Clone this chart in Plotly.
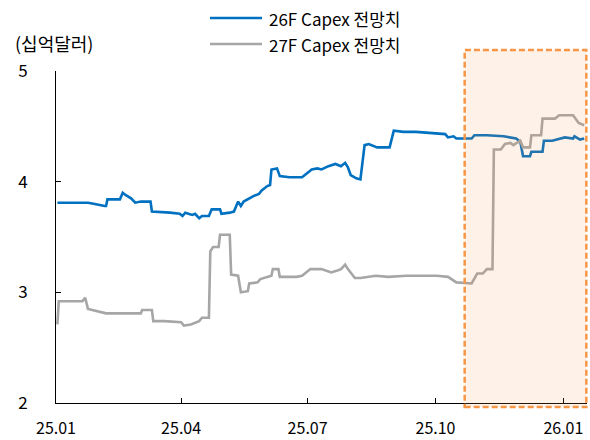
import pandas as pd
import plotly.graph_objects as go

# 26F Capex consensus (USD bn)
capex26_dates = [
    "2025-01-02", "2025-01-24", "2025-01-28", "2025-01-31", "2025-02-05", "2025-02-06",
    "2025-02-07", "2025-02-16", "2025-02-18", "2025-02-20", "2025-02-24", "2025-02-27",
    "2025-03-03", "2025-03-10", "2025-03-11", "2025-03-24", "2025-03-31", "2025-04-02",
    "2025-04-04", "2025-04-09", "2025-04-11", "2025-04-14", "2025-04-16", "2025-04-21",
    "2025-04-23", "2025-04-29", "2025-04-30", "2025-05-06", "2025-05-09", "2025-05-12",
    "2025-05-14", "2025-05-16", "2025-05-20", "2025-05-23", "2025-05-27", "2025-05-29",
    "2025-06-02", "2025-06-04", "2025-06-05", "2025-06-09", "2025-06-11", "2025-06-18",
    "2025-06-27", "2025-07-01", "2025-07-04", "2025-07-08", "2025-07-11", "2025-07-16",
    "2025-07-21", "2025-07-25", "2025-07-28", "2025-07-30", "2025-08-01", "2025-08-05",
    "2025-08-08", "2025-08-11", "2025-08-14", "2025-08-20", "2025-08-29", "2025-09-01",
    "2025-09-08", "2025-09-17", "2025-09-26", "2025-10-08", "2025-10-10", "2025-10-14",
    "2025-10-16", "2025-10-27", "2025-10-29", "2025-11-07", "2025-11-19", "2025-11-28",
    "2025-12-01", "2025-12-03", "2025-12-08", "2025-12-09", "2025-12-17", "2025-12-18",
    "2025-12-24", "2025-12-29", "2026-01-02", "2026-01-08", "2026-01-09", "2026-01-13",
    "2026-01-16",
]
capex26_values = [
    3.81, 3.81, 3.80, 3.79, 3.78, 3.78,
    3.84, 3.84, 3.90, 3.88, 3.85, 3.81,
    3.82, 3.82, 3.73, 3.72, 3.71, 3.69,
    3.72, 3.70, 3.71, 3.67, 3.69, 3.69,
    3.75, 3.75, 3.71, 3.72, 3.73, 3.82,
    3.78, 3.82, 3.85, 3.87, 3.89, 3.92,
    3.96, 3.97, 4.11, 4.12, 4.05, 4.04,
    4.04, 4.08, 4.11, 4.12, 4.11, 4.14,
    4.16, 4.14, 4.17, 4.13, 4.06, 4.03,
    4.02, 4.33, 4.34, 4.31, 4.31, 4.46,
    4.45, 4.45, 4.44, 4.43, 4.40, 4.41,
    4.39, 4.39, 4.42, 4.42, 4.41, 4.39,
    4.36, 4.23, 4.23, 4.27, 4.27, 4.37,
    4.37, 4.39, 4.40, 4.39, 4.41, 4.38,
    4.39,
]

# 27F Capex consensus (USD bn)
capex27_dates = [
    "2025-01-02", "2025-01-03", "2025-01-20", "2025-01-22", "2025-01-24", "2025-01-30",
    "2025-02-06", "2025-03-03", "2025-03-04", "2025-03-11", "2025-03-12", "2025-03-20",
    "2025-04-01", "2025-04-03", "2025-04-08", "2025-04-14", "2025-04-16", "2025-04-21",
    "2025-04-22", "2025-04-24", "2025-04-28", "2025-04-29", "2025-05-06", "2025-05-07",
    "2025-05-12", "2025-05-14", "2025-05-19", "2025-05-20", "2025-05-26", "2025-05-28",
    "2025-06-02", "2025-06-05", "2025-06-06", "2025-06-10", "2025-06-11", "2025-06-23",
    "2025-06-27", "2025-07-03", "2025-07-11", "2025-07-18", "2025-07-23", "2025-07-25",
    "2025-07-28", "2025-07-30", "2025-08-04", "2025-08-08", "2025-08-19", "2025-08-28",
    "2025-09-10", "2025-09-22", "2025-10-02", "2025-10-10", "2025-10-16", "2025-10-27",
    "2025-10-29", "2025-10-31", "2025-11-04", "2025-11-07", "2025-11-11", "2025-11-12",
    "2025-11-17", "2025-11-20", "2025-11-24", "2025-11-26", "2025-12-01", "2025-12-03",
    "2025-12-08", "2025-12-09", "2025-12-16", "2025-12-17", "2025-12-26", "2025-12-29",
    "2026-01-08", "2026-01-12", "2026-01-16",
]
capex27_values = [
    2.71, 2.92, 2.92, 2.95, 2.85, 2.83,
    2.81, 2.81, 2.84, 2.84, 2.74, 2.74,
    2.73, 2.70, 2.71, 2.74, 2.77, 2.77,
    3.37, 3.41, 3.41, 3.52, 3.52, 3.16,
    3.15, 3.00, 3.01, 3.08, 3.09, 3.12,
    3.14, 3.15, 3.21, 3.21, 3.14, 3.14,
    3.15, 3.21, 3.21, 3.18, 3.20, 3.21,
    3.25, 3.21, 3.13, 3.13, 3.15, 3.14,
    3.15, 3.15, 3.15, 3.14, 3.09, 3.08,
    3.13, 3.17, 3.17, 3.21, 3.21, 4.29,
    4.29, 4.34, 4.35, 4.33, 4.37, 4.31,
    4.31, 4.42, 4.42, 4.57, 4.57, 4.60,
    4.60, 4.53, 4.51,
]

series_names = ["26F Capex 전망치", "27F Capex 전망치"]
series_colors = ["#0070C0", "#A6A6A6"]

tick_dates = ["2025-01-01", "2025-04-01", "2025-07-01", "2025-10-01", "2026-01-01"]
tick_labels = ["25.01", "25.04", "25.07", "25.10", "26.01"]

unit_label = "(십억달러)"

# Highlighted window
highlight_start = "2025-10-22"
highlight_end = "2026-01-17 12:00"

x_start = "2025-01-01"
x_end = "2026-01-18"
y_min, y_max = 2, 5

FONT = "Noto Sans CJK KR"
W, H = 590, 440
M_L, M_R, M_T, M_B = 56, 3, 71, 37

fig = go.Figure()
for dates, values, name, color in [
    (capex26_dates, capex26_values, series_names[0], series_colors[0]),
    (capex27_dates, capex27_values, series_names[1], series_colors[1]),
]:
    fig.add_trace(go.Scatter(
        x=pd.to_datetime(dates), y=values, mode="lines", name=name,
        line=dict(color=color, width=2.6), showlegend=False,
    ))

# paper coordinates of the highlight window
t0, t1 = pd.Timestamp(x_start), pd.Timestamp(x_end)
def to_paper(d):
    return (pd.Timestamp(d) - t0) / (t1 - t0)

plot_w = W - M_L - M_R
plot_h = H - M_T - M_B

fig.add_shape(
    type="rect", xref="paper", yref="paper",
    x0=to_paper(highlight_start), x1=to_paper(highlight_end),
    y0=-4 / plot_h, y1=1 + 21 / plot_h,
    line=dict(color="#F79646", width=2.5, dash="6px,3px"),
    fillcolor="rgba(247,150,70,0.13)", layer="above",
)

# legend drawn as sample lines with labels
legend_rows = [18, 44]
for row_y, name, color in zip(legend_rows, series_names, series_colors):
    py = (H - M_B - row_y) / plot_h
    fig.add_shape(
        type="line", xref="paper", yref="paper",
        x0=(210 - M_L) / plot_w, x1=(262 - M_L) / plot_w, y0=py, y1=py,
        line=dict(color=color, width=2.6),
    )
    fig.add_annotation(
        text=name, xref="paper", yref="paper",
        x=(267 - M_L) / plot_w, y=py, xanchor="left", yanchor="middle",
        showarrow=False, font=dict(family=FONT, size=17, color="#000000"),
    )

fig.add_annotation(
    text=unit_label, xref="paper", yref="paper",
    x=(13 - M_L) / plot_w, y=(H - M_B - 43) / plot_h,
    xanchor="left", yanchor="middle", showarrow=False,
    font=dict(family=FONT, size=18, color="#000000"),
)

fig.update_layout(
    width=W, height=H,
    margin=dict(l=M_L, r=M_R, t=M_T, b=M_B),
    paper_bgcolor="white", plot_bgcolor="white",
    font=dict(family=FONT, size=17, color="#000000"),
    showlegend=False,
)
fig.update_xaxes(
    type="date", range=[x_start, x_end],
    tickvals=pd.to_datetime(tick_dates), ticktext=tick_labels,
    tickfont=dict(size=16),
    showline=True, linecolor="#000000", linewidth=1,
    ticks="inside", ticklen=5, tickcolor="#000000",
    showgrid=False, zeroline=False, ticklabelstandoff=11, automargin=False,
)
fig.update_yaxes(
    range=[y_min, y_max], tickvals=[2, 3, 4, 5],
    showline=True, linecolor="#000000", linewidth=1,
    ticks="inside", ticklen=5, tickcolor="#000000",
    showgrid=False, zeroline=False, ticklabelstandoff=24, automargin=False,
)

fig.write_html("out.html")
